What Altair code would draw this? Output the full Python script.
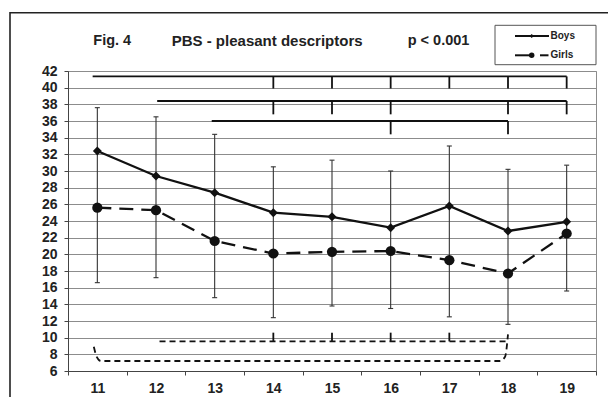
import altair as alt
import pandas as pd

# ---------------- data ----------------
ages = [11, 12, 13, 14, 15, 16, 17, 18, 19]
boys_mean = [32.4, 29.4, 27.4, 25.0, 24.5, 23.2, 25.8, 22.8, 23.9]
girls_mean = [25.6, 25.3, 21.6, 20.1, 20.3, 20.4, 19.3, 17.7, 22.5]
boys_upper = [37.6, 36.5, 34.4, 30.5, 31.3, 30.0, 33.0, 30.2, 30.7]
girls_lower = [16.6, 17.2, 14.8, 12.4, 13.8, 13.5, 12.5, 11.6, 15.6]

series_names = ["Boys", "Girls"]
title_parts = ["Fig. 4", "PBS - pleasant descriptors", "p < 0.001"]
y_ticks = list(range(6, 43, 2))

# significance brackets (top, solid)
top_levels = [41.35, 38.4, 36.0]
top_starts = [10.92, 12.02, 12.95]
top_ends = [19, 19, 18]
top_tick_ages = [[14, 15, 16, 17, 18, 19], [14, 15, 16, 18, 19], [16, 18]]
top_tick_bottoms = [39.9, 36.8, 34.4]

# significance brackets (bottom, dashed)
low_level = 9.55
low_start = 12.06
low_end = 18.0
low_tick_ages = [14, 15, 16, 17]
low_tick_top = 10.6
hook_x = [10.94, 10.99, 11.06, 17.86, 17.95, 18.0]
hook_y = [8.9, 7.7, 7.2, 7.2, 7.7, 10.4]

# ---------------- tables ----------------
df = pd.DataFrame({
    "age": ages, "boys": boys_mean, "girls": girls_mean,
    "boys_upper": boys_upper, "girls_lower": girls_lower,
})
top_h = pd.DataFrame({"y": top_levels, "x0": top_starts, "x1": top_ends})
top_t = pd.DataFrame([
    {"x": a, "y": lvl, "y2": bot}
    for lvl, ticks, bot in zip(top_levels, top_tick_ages, top_tick_bottoms)
    for a in ticks
])
low_h = pd.DataFrame({"y": [low_level], "x0": [low_start], "x1": [low_end]})
low_t = pd.DataFrame({"x": low_tick_ages, "y": [low_level] * len(low_tick_ages),
                      "y2": [low_tick_top] * len(low_tick_ages)})
hook = pd.DataFrame({"x": hook_x, "y": hook_y, "i": list(range(len(hook_x)))})
one = pd.DataFrame({"a": [0]})

W, H = 528, 300
FONT = "Liberation Sans"
INK = "#111111"

x_scale = alt.Scale(domain=[10.5, 19.5], nice=False, zero=False)
y_scale = alt.Scale(domain=[6, 42], nice=False, zero=False)

x_axis = alt.Axis(
    values=[10.5 + i for i in range(10)],
    labelExpr="datum.value < 19 ? format(datum.value + 0.5, 'd') : ''",
    labelOffset=W / 9 / 2, labelFlush=False, labelOverlap=False, labelBound=False,
    grid=False, tickSize=4, labelPadding=6, labelFontSize=14, labelFontWeight="bold",
    labelFont=FONT, labelColor="#222222", domainColor="#444444", tickColor="#444444",
    title=None,
)
y_axis = alt.Axis(
    values=y_ticks, grid=True, gridColor="#8c8c8c", gridWidth=1,
    tickSize=4, labelPadding=7, labelFontSize=14, labelFontWeight="bold",
    labelFont=FONT, labelColor="#222222", domainColor="#444444", tickColor="#444444",
    title=None, labelFlush=False, labelOverlap=False,
)

X = lambda f: alt.X(f, type="quantitative", scale=x_scale, axis=x_axis)
Y = lambda f: alt.Y(f, type="quantitative", scale=y_scale, axis=y_axis)

base = alt.Chart(df)

err = base.mark_rule(color="#333333", strokeWidth=1.1).encode(
    x=X("age"), y=Y("girls_lower"), y2="boys_upper")
cap_up = base.mark_rule(color="#333333", strokeWidth=1.1, xOffset=-2.5, x2Offset=2.5).encode(
    x=X("age"), x2="age", y=Y("boys_upper"))
cap_lo = base.mark_rule(color="#333333", strokeWidth=1.1, xOffset=-2.5, x2Offset=2.5).encode(
    x=X("age"), x2="age", y=Y("girls_lower"))

boys_line = base.mark_line(color=INK, strokeWidth=2.3).encode(x=X("age"), y=Y("boys"))
boys_pts = base.mark_point(shape="diamond", filled=True, size=80, color=INK, opacity=1).encode(
    x=X("age"), y=Y("boys"))
girls_line = base.mark_line(color=INK, strokeWidth=2.3, strokeDash=[14, 8]).encode(
    x=X("age"), y=Y("girls"))
girls_pts = base.mark_point(shape="circle", filled=True, size=105, color=INK, opacity=1).encode(
    x=X("age"), y=Y("girls"))

br_h = alt.Chart(top_h).mark_rule(color=INK, strokeWidth=1.8).encode(
    x=X("x0"), x2="x1", y=Y("y"))
br_t = alt.Chart(top_t).mark_rule(color=INK, strokeWidth=1.8).encode(
    x=X("x"), y=Y("y"), y2="y2")
lo_h = alt.Chart(low_h).mark_rule(color=INK, strokeWidth=1.8, strokeDash=[6, 4]).encode(
    x=X("x0"), x2="x1", y=Y("y"))
lo_t = alt.Chart(low_t).mark_rule(color=INK, strokeWidth=1.8).encode(
    x=X("x"), y=Y("y"), y2="y2")
lo_hook = alt.Chart(hook).mark_line(color=INK, strokeWidth=1.8, strokeDash=[6, 4],
                                    interpolate="monotone").encode(
    x=X("x"), y=Y("y"), order="i:Q")

# ---------------- decoration: frame, title, legend ----------------
o = alt.Chart(one)
frame = o.mark_rect(fillOpacity=0, stroke="#222222", strokeWidth=1.6).encode(
    x=alt.value(-58), x2=alt.value(700), y=alt.value(-58.3), y2=alt.value(500))

title_x = [25.3, 103.7, 339.7]
title_sizes = [14.5, 15, 14.5]
titles = [
    o.mark_text(align="left", baseline="middle", font=FONT, fontSize=fs,
                fontWeight="bold", color="#222222").encode(
        x=alt.value(tx), y=alt.value(-30), text=alt.value(t))
    for tx, t, fs in zip(title_x, title_parts, title_sizes)
]

leg_box = o.mark_rect(fill="white", stroke="#555555", strokeWidth=1).encode(
    x=alt.value(427), x2=alt.value(528), y=alt.value(-45.7), y2=alt.value(-6.3))
leg_boys_line = o.mark_rule(color=INK, strokeWidth=2).encode(
    x=alt.value(447), x2=alt.value(481), y=alt.value(-35))
leg_boys_pt = o.mark_point(shape="diamond", filled=True, size=18, color=INK, opacity=1).encode(
    x=alt.value(463.7), y=alt.value(-35))
leg_girls_line = o.mark_rule(color=INK, strokeWidth=2).encode(
    x=alt.value(447), x2=alt.value(466), y=alt.value(-15.7))
leg_girls_dash = o.mark_rule(color=INK, strokeWidth=2).encode(
    x=alt.value(472), x2=alt.value(480.5), y=alt.value(-15.7))
leg_girls_pt = o.mark_point(shape="circle", filled=True, size=30, color=INK, opacity=1).encode(
    x=alt.value(463.7), y=alt.value(-15.7))
leg_texts = [
    o.mark_text(align="left", baseline="middle", font=FONT, fontSize=10,
                fontWeight="bold", color="#222222").encode(
        x=alt.value(482.5), y=alt.value(ly), text=alt.value(name))
    for name, ly in zip(series_names, [-35, -15.7])
]

chart = alt.layer(
    frame,
    err, cap_up, cap_lo,
    br_h, br_t, lo_h, lo_t, lo_hook,
    girls_line, girls_pts, boys_line, boys_pts,
    *titles,
    leg_box, leg_boys_line, leg_boys_pt, leg_girls_line, leg_girls_dash, leg_girls_pt,
    *leg_texts,
).properties(
    width=W, height=H,
    autosize=alt.AutoSizeParams(type="none"),
    padding={"left": 60, "top": 63, "right": 12, "bottom": 26},
    background="white",
).configure_view(stroke="#8c8c8c", strokeWidth=1)

chart.save("out.html", embed_options={"renderer": "svg", "actions": False})
